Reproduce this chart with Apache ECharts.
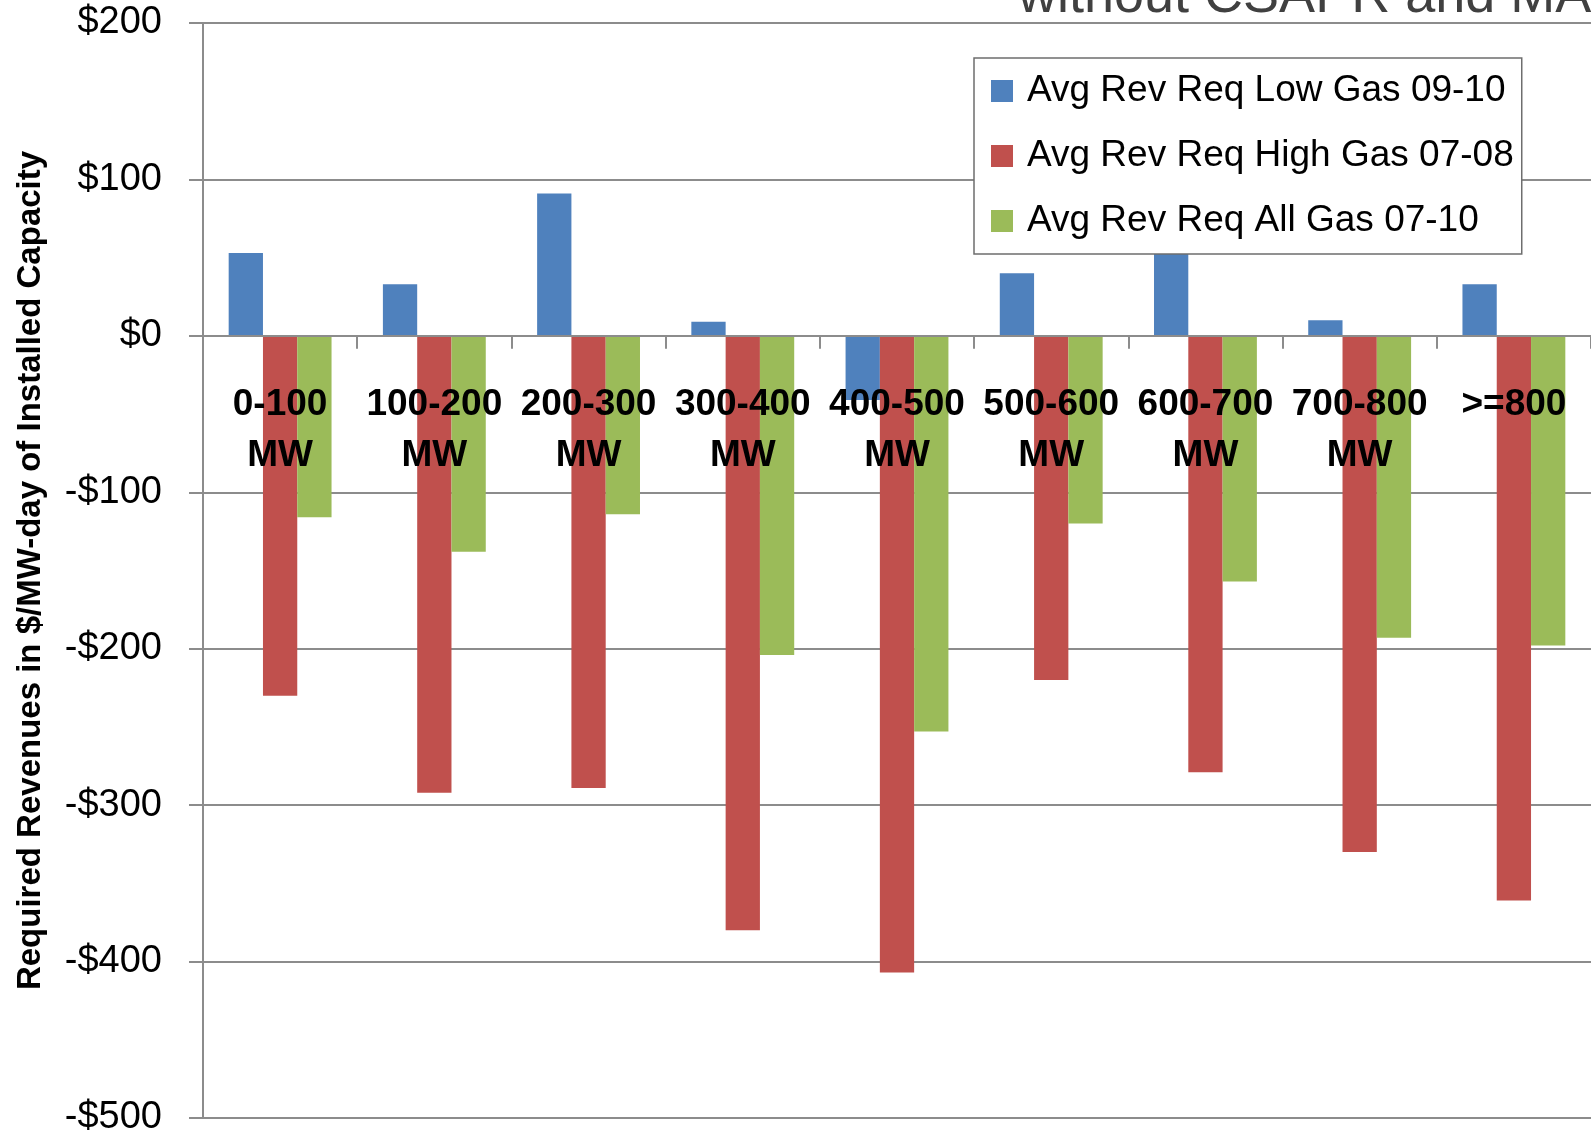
<!DOCTYPE html>
<html>
<head>
<meta charset="utf-8">
<script src="https://cdn.jsdelivr.net/npm/echarts@6/dist/echarts.min.js"></script>
<style>
html,body{margin:0;padding:0;background:#fff;}
#chart{width:1591px;height:1141px;}
</style>
</head>
<body>
<div id="chart"></div>
<script>
const categories = ['0-100\nMW','100-200\nMW','200-300\nMW','300-400\nMW','400-500\nMW','500-600\nMW','600-700\nMW','700-800\nMW','>=800'];
const seriesNames = ['Avg Rev Req Low Gas 09-10','Avg Rev Req High Gas 07-08','Avg Rev Req All Gas 07-10'];
const lowGas = [53, 33, 91, 9, -41, 40, 56, 10, 33];
const highGas = [-230, -292, -289, -380, -407, -220, -279, -330, -361];
const allGas = [-116, -138, -114, -204, -253, -120, -157, -193, -198];
const yTicks = {min: -500, max: 200, interval: 100};
const titleText = 'without CSAPR and MATS';
const yAxisName = 'Required Revenues in $/MW-day of Installed Capacity';

const FONT = "'Liberation Sans', Arial, sans-serif";
const colors = ['#4F81BD', '#C0504D', '#9BBB59'];
const GRID_TOP = 23, GRID_BOTTOM = 23, H = 1141;
const plotH = H - GRID_TOP - GRID_BOTTOM;
// distance from plot bottom to the value 0 line, from the axis range
const zeroOffset = plotH * (0 - yTicks.min) / (yTicks.max - yTicks.min);

const chart = echarts.init(document.getElementById('chart'));
chart.setOption({
  animation: false,
  backgroundColor: '#fff',
  color: colors,
  graphic: [{
    type: 'text', left: 1018, top: -30, z: 0,
    style: {text: titleText, font: '54px ' + FONT, fill: '#404040'}
  }],
  grid: {left: 203, right: 0, top: GRID_TOP, bottom: GRID_BOTTOM, containLabel: false, outerBoundsMode: 'none'},
  legend: {
    orient: 'vertical', left: 974, top: 58,
    padding: [11, 8, 11, 17],
    backgroundColor: '#fff', borderColor: '#6e6e6e', borderWidth: 1.5, borderRadius: 0,
    itemWidth: 22, itemHeight: 22, itemGap: 21, icon: 'rect',
    textStyle: {fontFamily: FONT, fontSize: 37, color: '#000', lineHeight: 44, padding: [0,0,0,9]},
    data: seriesNames, z: 10
  },
  xAxis: {
    type: 'category', data: categories, z: 10, position: 'bottom', offset: -zeroOffset,
    axisLine: {onZero: false, lineStyle: {color: '#8c8c8c', width: 2}},
    axisTick: {show: true, length: 13, lineStyle: {color: '#8c8c8c', width: 2}},
    axisLabel: {fontFamily: FONT, fontSize: 37, fontWeight: 'bold', color: '#000', lineHeight: 51, margin: 43, interval: 0},
    splitLine: {show: false}
  },
  yAxis: {
    type: 'value', min: yTicks.min, max: yTicks.max, interval: yTicks.interval,
    name: yAxisName, nameLocation: 'middle', nameGap: 156, nameRotate: 90,
    nameTextStyle: {fontFamily: FONT, fontSize: 33, fontWeight: 'bold', color: '#000'},
    axisLine: {show: true, lineStyle: {color: '#8c8c8c', width: 2}},
    axisTick: {show: true, length: 14, lineStyle: {color: '#8c8c8c', width: 2}},
    axisLabel: {fontFamily: FONT, fontSize: 38, color: '#000', margin: 41,
      formatter: v => v < 0 ? '-$' + Math.abs(v) : '$' + v},
    splitLine: {show: true, lineStyle: {color: '#8c8c8c', width: 2}}
  },
  series: [
    {name: seriesNames[0], type: 'bar', data: lowGas, barGap: '0%', barCategoryGap: '33.3%'},
    {name: seriesNames[1], type: 'bar', data: highGas, barGap: '0%', barCategoryGap: '33.3%'},
    {name: seriesNames[2], type: 'bar', data: allGas, barGap: '0%', barCategoryGap: '33.3%'}
  ]
});
</script>
</body>
</html>
